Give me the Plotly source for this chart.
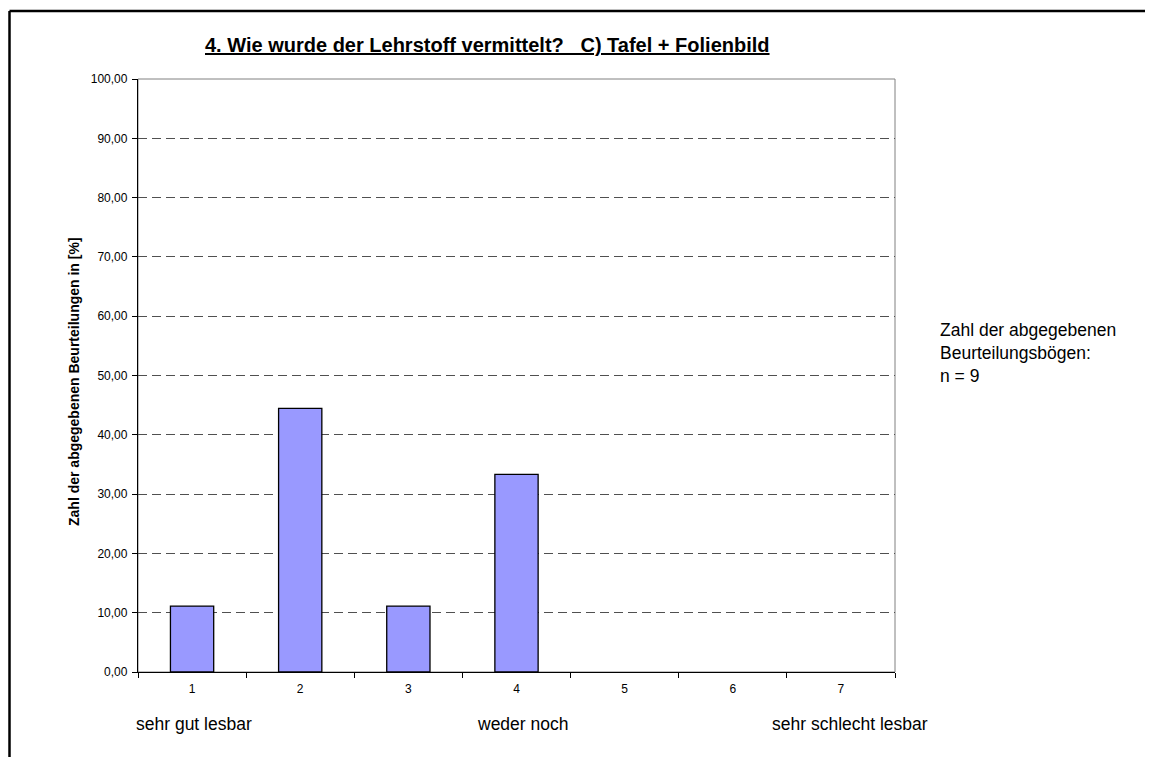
import plotly.graph_objects as go

categories = ["1", "2", "3", "4", "5", "6", "7"]
values = [11.11, 44.44, 11.11, 33.33, 0, 0, 0]
y_ticks = [0, 10, 20, 30, 40, 50, 60, 70, 80, 90, 100]

# page body margin offset of 8px
OFF = 8
W, H = 1153 - OFF, 757 - OFF
L, R, T, B = 138, 895, 79, 672   # screen coordinates of plot area

def px(x):
    return (x - L) / (R - L)

def py(y):
    return (B - y) / (B - T)

fig = go.Figure()
fig.add_trace(go.Bar(
    x=categories, y=values,
    marker=dict(color="#9999FF",
                line=dict(color="black", width=[1.3 if v > 0 else 0 for v in values])),
    width=0.4,
))

fig.update_layout(
    width=W, height=H,
    margin=dict(l=L - OFF, r=(W + OFF) - R, t=T - OFF, b=(H + OFF) - B),
    paper_bgcolor="white", plot_bgcolor="white",
    separators=",.",
    showlegend=False,
    font=dict(family="Arial, Liberation Sans, sans-serif", color="black"),
    xaxis=dict(
        type="category", tickson="boundaries", ticks="outside", ticklen=5,
        tickcolor="black", showline=True, linecolor="black", linewidth=1,
        showgrid=False, tickfont=dict(size=12), ticklabelstandoff=6,
    ),
    yaxis=dict(
        range=[0, 100], tickvals=y_ticks, tickformat=".2f",
        ticks="outside", ticklen=5, tickcolor="black",
        showline=True, linecolor="black", linewidth=1.3,
        showgrid=True, gridcolor="#505050", griddash="9px,5px", gridwidth=1,
        tickfont=dict(size=12), zeroline=False, ticklabelstandoff=2,
    ),
)

shapes = [
    dict(type="rect", xref="paper", yref="paper", x0=0, x1=1, y0=0, y1=1,
         line=dict(color="#808080", width=1), layer="below"),
    dict(type="line", xref="paper", yref="paper", x0=px(9.5), x1=px(1170),
         y0=py(11), y1=py(11), line=dict(color="black", width=2.5)),
    dict(type="line", xref="paper", yref="paper", x0=px(9.5), x1=px(9.5),
         y0=py(11), y1=py(780), line=dict(color="black", width=2.5)),
]
fig.update_layout(shapes=shapes)

ann = [
    dict(text="<u><b>4. Wie wurde der Lehrstoff vermittelt?\u00a0\u00a0\u00a0C) Tafel + Folienbild</b></u>",
         x=px(487), y=py(45), font=dict(size=20)),
    dict(text="<b>Zahl der abgegebenen Beurteilungen in [%]</b>", textangle=-90,
         x=px(74), y=py(382), font=dict(size=14)),
    dict(text="sehr gut lesbar", x=px(193.5), y=py(724), font=dict(size=17.5)),
    dict(text="weder noch", x=px(522.5), y=py(724), font=dict(size=17.5)),
    dict(text="sehr schlecht lesbar", x=px(850), y=py(724), font=dict(size=17.5)),
    dict(text="Zahl der abgegebenen<br>Beurteilungsbögen:<br>n = 9",
         x=px(938), y=py(353), xanchor="left", align="left", font=dict(size=17.5)),
]
for a in ann:
    a.setdefault("xanchor", "center")
    fig.add_annotation(xref="paper", yref="paper", showarrow=False,
                       yanchor="middle", **a)

fig.write_html("out.html")
